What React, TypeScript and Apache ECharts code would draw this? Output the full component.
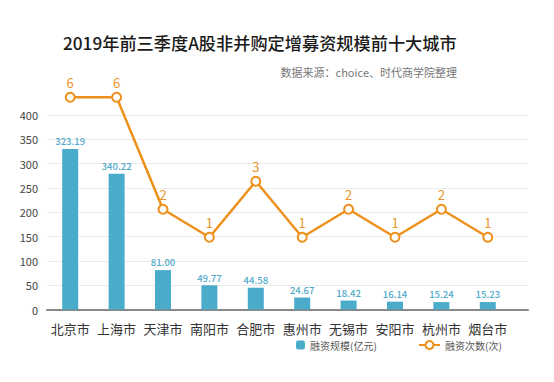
import React, { useEffect, useRef } from "react";
import * as echarts from "echarts";

const categories = ["北京市", "上海市", "天津市", "南阳市", "合肥市", "惠州市", "无锡市", "安阳市", "杭州市", "烟台市"];
// bar heights as drawn in the reference
const amountBars = [330, 279, 81, 49.77, 44.58, 24.67, 18.42, 16.14, 15.24, 15.23];
// bar labels as printed in the reference
const amountLabels = ["323.19", "340.22", "81.00", "49.77", "44.58", "24.67", "18.42", "16.14", "15.24", "15.23"];
const counts = [6, 6, 2, 1, 3, 1, 2, 1, 2, 1];
const yTicks = { min: 0, max: 400, interval: 50 };

const FONT = "'Noto Sans CJK SC', 'Noto Sans', sans-serif";
const BLUE = "#4aabcb";
const ORANGE = "#ee901c";

export default function App() {
  const ref = useRef<HTMLDivElement>(null);
  useEffect(() => {
    if (!ref.current) return;
    const chart = echarts.init(ref.current, undefined, { renderer: "svg" });
    chart.setOption({
      animation: false,
      backgroundColor: "#ffffff",
      textStyle: { fontFamily: FONT },
      title: [
        {
          text: "2019年前三季度A股非并购定增募资规模前十大城市",
          left: 58,
          top: 29,
          textStyle: { fontSize: 17.2, fontWeight: 500, color: "#1a1a1a", fontFamily: FONT },
        },
        {
          text: "数据来源：choice、时代商学院整理",
          right: 92,
          top: 61,
          textStyle: { fontSize: 11, fontWeight: "normal", color: "#777", fontFamily: FONT },
        },
      ],
      legend: [
        {
          data: ["融资规模(亿元)"],
          left: 291,
          top: 335,
          itemWidth: 9,
          itemHeight: 9,
          itemGap: 6,
          textStyle: { fontSize: 10, color: "#555", fontFamily: FONT },
        },
        {
          data: ["融资次数(次)"],
          left: 413,
          top: 335,
          itemWidth: 21,
          itemHeight: 10,
          textStyle: { fontSize: 10, color: "#555", fontFamily: FONT },
        },
      ],
      grid: [
        { left: 47, right: 26, top: 115, bottom: 72.5 },
        { left: 47, right: 43, top: 115, bottom: 72.5 },
      ],
      xAxis: [
        {
          type: "value",
          gridIndex: 0,
          min: 0,
          max: 1,
          axisLine: { show: true, lineStyle: { color: "#888", width: 2 } },
          axisTick: { show: false },
          axisLabel: { show: false },
          splitLine: { show: false },
        },
        {
          type: "category",
          gridIndex: 1,
          data: categories,
          axisLine: { show: false },
          axisTick: { show: false },
          axisLabel: { interval: 0, fontSize: 13, color: "#333", margin: 12, fontFamily: FONT },
        },
      ],
      yAxis: [
        {
          type: "value",
          gridIndex: 0,
          ...yTicks,
          axisLine: { show: false },
          axisTick: { show: false },
          axisLabel: { fontSize: 11, color: "#444", margin: 9, fontFamily: FONT },
          splitLine: { lineStyle: { color: "#ebebeb", width: 1 } },
        },
        {
          type: "value",
          gridIndex: 1,
          ...yTicks,
          show: false,
          splitLine: { show: false },
        },
        {
          type: "value",
          gridIndex: 1,
          position: "right",
          min: -1.579,
          max: 5.368,
          show: false,
          splitLine: { show: false },
        },
      ],
      series: [
        {
          name: "融资规模(亿元)",
          type: "bar",
          xAxisIndex: 1,
          yAxisIndex: 1,
          data: amountBars,
          barWidth: 16,
          itemStyle: { color: BLUE },
          label: {
            show: true,
            position: "top",
            distance: 3,
            color: "#4fa9c8",
            fontSize: 9.5,
            fontWeight: 500,
            fontFamily: FONT,
            formatter: (p: any) => amountLabels[p.dataIndex],
          },
        },
        {
          name: "融资次数(次)",
          type: "line",
          xAxisIndex: 1,
          yAxisIndex: 2,
          data: counts,
          clip: false,
          symbol: "circle",
          symbolSize: 9,
          lineStyle: { color: ORANGE, width: 2.5 },
          itemStyle: { color: "#fff", borderColor: ORANGE, borderWidth: 2 },
          label: {
            show: true,
            position: "top",
            distance: 3,
            color: "#e9962a",
            fontSize: 13,
            fontFamily: FONT,
          },
        },
      ],
    });
    return () => chart.dispose();
  }, []);
  return (
    <div
      ref={ref}
      style={{ position: "fixed", left: 0, top: 0, width: 554, height: 382 }}
    />
  );
}
